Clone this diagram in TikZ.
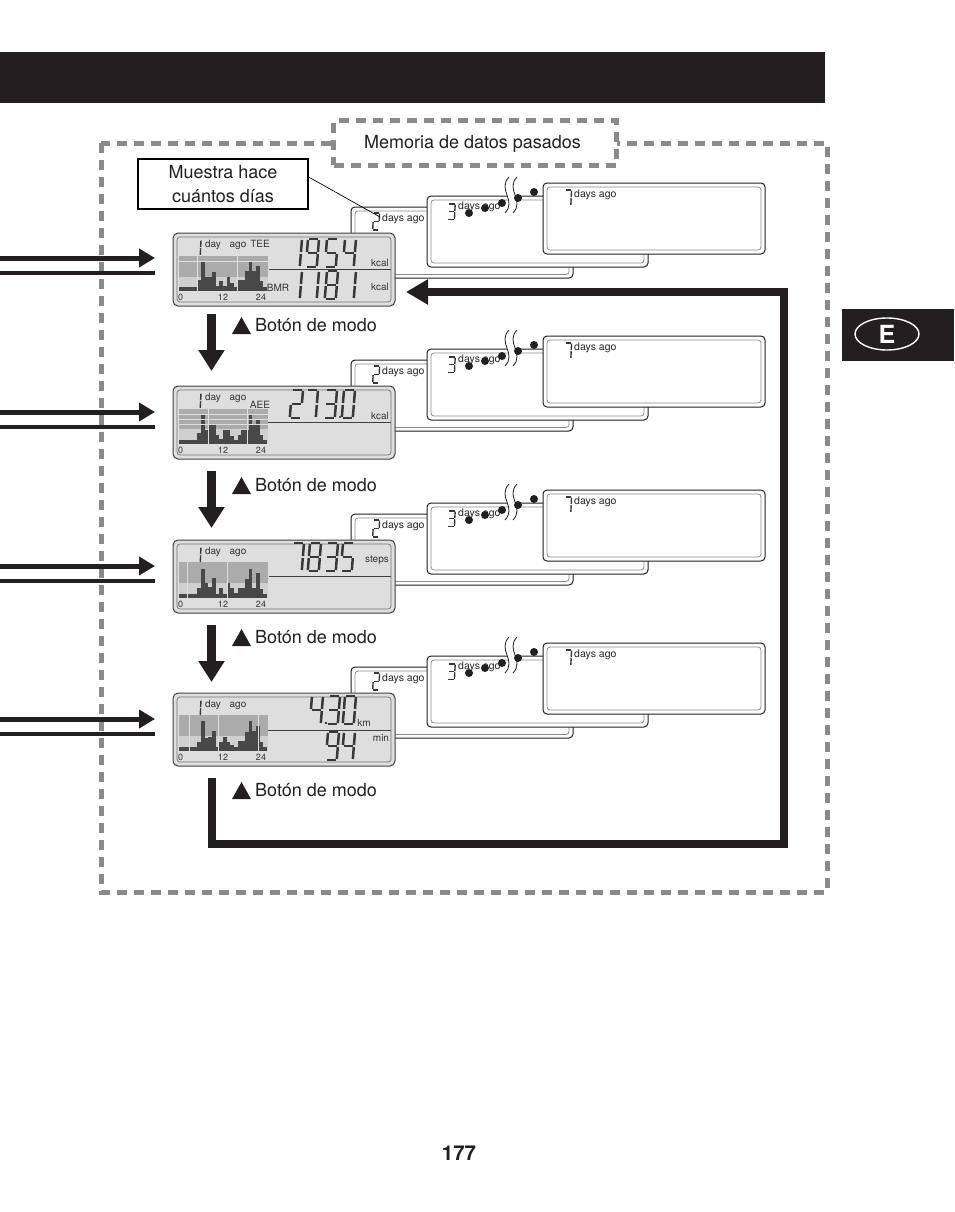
\documentclass[tikz,border=0pt]{standalone}
\usepackage{fontspec}
\setmainfont{TeX Gyre Heros}
\usetikzlibrary{arrows.meta,shapes.geometric}
\definecolor{inkblack}{HTML}{231F20}
\definecolor{dashgray}{HTML}{8A8A8A}
\definecolor{lcdgray}{HTML}{DEDEDE}
\definecolor{banddark}{HTML}{ABABAB}
\definecolor{bandlight}{HTML}{CFCFCF}
\definecolor{barcol}{HTML}{484848}
\tikzset{
  lcdseg/.style={line width=2.5pt,draw=black!78},
  sega/.style={insert path={(2,0) -- (11,0)}},
  segb/.style={insert path={(12,1) -- (12,13)}},
  segc/.style={insert path={(12,15) -- (12,27)}},
  segd/.style={insert path={(2,28) -- (11,28)}},
  sege/.style={insert path={(1,15) -- (1,27)}},
  segf/.style={insert path={(1,1) -- (1,13)}},
  segg/.style={insert path={(2,14) -- (11,14)}},
  gapdash/.style={draw=dashgray,line width=5pt,dash pattern=on 10pt off 7pt},
  panelout/.style={draw=inkblack,fill=white,line width=1pt,rounded corners=4pt},
  panelin/.style={draw=black!45,line width=.8pt,rounded corners=3pt},
  lcdbox/.style={draw=black!75,fill=lcdgray,line width=1pt,rounded corners=5pt,minimum width=222pt,minimum height=73pt,outer sep=0pt},
  lcdbar/.style={fill=barcol},
  lcdtext/.style={inner sep=0pt,text=black!80,font=\fontsize{10}{12}\selectfont},
  smalltext/.style={inner sep=0pt,text=black!85,font=\fontsize{10.5}{12}\selectfont},
  bodytext/.style={inner sep=0pt,font=\fontsize{18}{23}\selectfont,text=inkblack},
  fatarrow/.style={draw=inkblack,line width=9pt,-{Triangle[length=21pt,width=25pt]}},
  inarrow/.style={draw=inkblack,line width=5pt,-{Triangle[length=16pt,width=18pt]}},
  inline/.style={draw=inkblack,line width=4pt},
}
\expandafter\def\csname dig0\endcsname{a,b,c,d,e,f}
\expandafter\def\csname dig1\endcsname{b,c}
\expandafter\def\csname dig2\endcsname{a,b,g,e,d}
\expandafter\def\csname dig3\endcsname{a,b,g,c,d}
\expandafter\def\csname dig4\endcsname{f,g,b,c}
\expandafter\def\csname dig5\endcsname{a,f,g,c,d}
\expandafter\def\csname dig7\endcsname{a,b,c}
\expandafter\def\csname dig8\endcsname{a,b,c,d,e,f,g}
\expandafter\def\csname dig9\endcsname{a,b,g,f,c,d}
% left edge, top edge, xscale, yscale, digit
\newcommand{\lcddigit}[5]{
  \begin{scope}[shift={(#1,#2)},xslant=0.08,xscale=#3,yscale=#4]
    \edef\seglist{\csname dig#5\endcsname}
    \foreach \s in \seglist {\draw[lcdseg,seg\s];}
  \end{scope}
}
\newcommand{\smalldigit}[5]{
  \begin{scope}[shift={(#1,#2)},xslant=0.05,xscale=#3,yscale=#4,lcdseg/.append style={line width=1.4pt}]
    \edef\seglist{\csname dig#5\endcsname}
    \foreach \s in \seglist {\draw[lcdseg,seg\s];}
  \end{scope}
}
% baseline, band top, band bottom, heights
\newcommand{\lcdchart}[4]{
  \fill[bandlight] (179,#3) rectangle (267.5,#1);
  \fill[banddark] (179,#2) rectangle (267.5,#3);
  \foreach \h [count=\i from 0] in {#4}
    \fill[lcdbar] ({179+\i*3.667},{#1-\h}) rectangle +(3.667,\h);
}
\begin{document}
\begin{tikzpicture}[x=1pt,y=-1pt]
  \useasboundingbox (0,0) rectangle (954,1212);
  % Header bar and language tab
  \fill[inkblack] (0,52) rectangle (825,103);
  \fill[inkblack] (842,309) rectangle (954,361);
  \node[draw=white,line width=1.4pt,ellipse,minimum width=64pt,minimum height=32pt,inner sep=0pt,text=white,font=\bfseries\fontsize{25}{25}\selectfont] (tabe) at (887,334) {E};
  % Dashed frame
  \draw[gapdash] (101,143) rectangle (827,892);
  \node[gapdash,fill=white,minimum width=283pt,minimum height=44pt,inner sep=0pt,outer sep=0pt] (memoria) at (475,143) {};
  \node[bodytext] (memoriatxt) at (472.5,144) {Memoria de datos pasados};
  % Rows
  \foreach \row/\dy/\by/\iy in {1/0/0/0,2/153/160/154,3/307/312/308,4/460/465/461} {
    \begin{scope}[shift={(0,\dy)}]
      % Past days
      \draw[panelout] (351,207) rectangle (573,278);
      \draw[panelin] (355,211) rectangle (569,274.5);
      \draw[panelout] (427,196) rectangle (648,267);
      \draw[panelin] (431,200) rectangle (644,263);
      \draw[panelout] (543,183) rectangle (765,254);
      \draw[panelin] (547,187) rectangle (761,250);
      \fill[white] (509,177) .. controls (497,190) and (517,200) .. (505,213) -- (513,213) .. controls (525,200) and (505,190) .. (517,177) -- cycle;
      \draw[inkblack,line width=.8pt] (509,177) .. controls (497,190) and (517,200) .. (505,213);
      \draw[inkblack,line width=.8pt] (517,177) .. controls (505,190) and (525,200) .. (513,213);
      \smalldigit{373}{213}{.55}{.6}{2}
      \node[smalltext,anchor=base west] (dosdias\row) at (382,221) {days ago};
      \smalldigit{448}{204}{.6}{.55}{3}
      \node[smalltext,anchor=base west] (tresdias\row) at (458,209) {days ago};
      \smalldigit{565}{190}{.55}{.55}{7}
      \node[smalltext,anchor=base west] (sietedias\row) at (574,197) {days ago};
      \foreach \dotx/\doty in {469/213,485/208,502/203,518/198,534/192}
        \fill[inkblack] (\dotx,\doty) circle (4);
      % Display
      \node[lcdbox] (lcd\row) at (284,269.5) {};
      \draw[black!55,line width=.7pt,rounded corners=3pt] (177,237) rectangle (391,302);
      \smalldigit{195}{240}{.5}{.55}{1}
      \node[lcdtext,anchor=base] (dia\row) at (213,247) {day};
      \node[lcdtext,anchor=base] (ago\row) at (238,247) {ago};
      \node[lcdtext,font=\fontsize{9}{10}\selectfont,anchor=base] (cero\row) at (180.5,300) {0};
      \node[lcdtext,font=\fontsize{9}{10}\selectfont,anchor=base] (doce\row) at (223,300) {12};
      \node[lcdtext,font=\fontsize{9}{10}\selectfont,anchor=base] (veinte\row) at (261,300) {24};
    \end{scope}
    % Inputs from the left
    \begin{scope}[shift={(0,\iy)}]
      \coordinate (inhi\row) at (0,258);
      \coordinate (inhiend\row) at (155,258);
      \coordinate (inlo\row) at (0,273);
      \coordinate (inloend\row) at (155,273);
    \end{scope}
    \draw[inarrow] (inhi\row) -- (inhiend\row);
    \draw[inline] (inlo\row) -- (inloend\row);
    % Mode button
    \begin{scope}[shift={(0,\by)}]
      \fill[inkblack] (232,334) -- (251,334) -- (241.5,317) -- cycle;
      \node[bodytext,anchor=base west] (boton\row) at (255,331) {Botón de modo};
    \end{scope}
  }
  % Display 1
  \lcdchart{291}{256}{277}{4,4,4,4,4,11,29,14,14,19,5,10,5,14,8,4,11,11,20,30,20,25,10,4}
  \draw[lcdgray,line width=.8pt] (179,261.5) -- (267.5,261.5) (197,256) -- (197,291) (237,256) -- (237,291);
  \draw[black!75,line width=.8pt] (269,269) -- (391,269);
  \node[lcdtext,anchor=base] (tee) at (260,247) {TEE};
  \node[lcdtext,anchor=base] (bmr) at (278,291) {BMR};
  \node[lcdtext,anchor=base] (kcalsup) at (380,266) {kcal};
  \node[lcdtext,anchor=base] (kcalinf) at (380,290) {kcal};
  \lcddigit{290}{239}{1}{1}{1}
  \lcddigit{307}{239}{1}{1}{9}
  \lcddigit{326}{239}{1}{1}{5}
  \lcddigit{344}{239}{1}{1}{4}
  \lcddigit{290}{271}{1}{1}{1}
  \lcddigit{307}{271}{1}{1}{1}
  \lcddigit{326}{271}{1}{1}{8}
  \lcddigit{344}{271}{1}{1}{1}
  % Display 2
  \lcdchart{444}{409}{429}{4,4,4,4,4,11,30,14,19,19,9,5,14,14,8,4,9,14,14,29,20,24,9,4}
  \draw[lcdgray,line width=.8pt] (179,414) -- (267.5,414) (179,419) -- (267.5,419) (179,424) -- (267.5,424) (208,409) -- (208,444) (247,409) -- (247,444);
  \draw[black!75,line width=.8pt] (268,422) -- (391,422);
  \node[lcdtext,anchor=base] (aee) at (260,408) {AEE};
  \node[lcdtext,anchor=base] (kcaldos) at (380,419) {kcal};
  \lcddigit{291}{390}{1}{1}{2}
  \lcddigit{306}{390}{1}{1}{7}
  \lcddigit{325}{390}{1}{1}{3}
  \fill[black!80] (340,417) circle (1.2);
  \lcddigit{343}{390}{1}{1}{0}
  % Display 3
  \lcdchart{598}{562}{583}{4,4,4,4,4,10,29,15,11,20,4,10,4,15,10,5,10,10,19,29,10,25,9,4}
  \draw[lcdgray,line width=.8pt] (187,562) -- (187,598) (227,562) -- (227,598);
  \draw[black!75,line width=.8pt] (269,576) -- (391,576);
  \node[lcdtext,anchor=base] (steps) at (377,562) {steps};
  \lcddigit{292}{543}{1}{1}{7}
  \lcddigit{309}{543}{1}{1}{8}
  \lcddigit{326}{543}{1}{1}{3}
  \lcddigit{342}{543}{1}{1}{5}
  % Display 4
  \lcdchart{751}{715}{736}{4,4,4,4,4,9,30,13,14,20,4,9,14,9,6,4,10,10,19,30,20,25,9,4}
  \draw[lcdgray,line width=.8pt] (189,715) -- (189,751) (218,715) -- (218,751) (258,715) -- (258,751);
  \draw[black!75,line width=.8pt] (268,730) -- (391,730);
  \node[lcdtext,anchor=base] (km) at (364,726) {km};
  \node[lcdtext,anchor=base] (minu) at (381,741) {min};
  \lcddigit{311}{696}{1}{1}{4}
  \fill[black!80] (326,723) circle (1.4);
  \lcddigit{328}{696}{1}{1}{3}
  \lcddigit{344}{696}{1}{1}{0}
  \lcddigit{327}{732}{1}{1}{9}
  \lcddigit{343}{732}{1}{1}{4}
  % Callout
  \node[draw=black,fill=white,line width=1.2pt,minimum width=170pt,minimum height=50pt,inner sep=0pt,align=center,font=\fontsize{18}{23.5}\selectfont,text=inkblack] (muestra) at (223,184) {Muestra hace\\cuántos días};
  \coordinate (digitodos) at (380,217);
  \draw[black,line width=.7pt] ([yshift=7pt]muestra.east) -- (digitodos);
  % Mode arrows
  \coordinate (bajaa) at (211.5,314);
  \coordinate (bajab) at (211.5,371);
  \coordinate (bajac) at (211.5,471);
  \coordinate (bajad) at (211.5,528);
  \coordinate (bajae) at (211.5,625);
  \coordinate (bajaf) at (211.5,682);
  \draw[fatarrow] (bajaa) -- (bajab);
  \draw[fatarrow] (bajac) -- (bajad);
  \draw[fatarrow] (bajae) -- (bajaf);
  % Return loop
  \coordinate (vueltaa) at (211.5,778);
  \coordinate (vueltab) at (784,844);
  \coordinate (vueltac) at (406,292);
  \draw[draw=inkblack,line width=8pt,-{Triangle[length=22pt,width=24pt]}] (vueltaa) |- (vueltab) |- (vueltac);
  % Page number
  \node[inner sep=0pt,font=\bfseries\fontsize{20.5}{21}\selectfont,text=inkblack] (pagina) at (459,1153) {177};
\end{tikzpicture}
\end{document}
